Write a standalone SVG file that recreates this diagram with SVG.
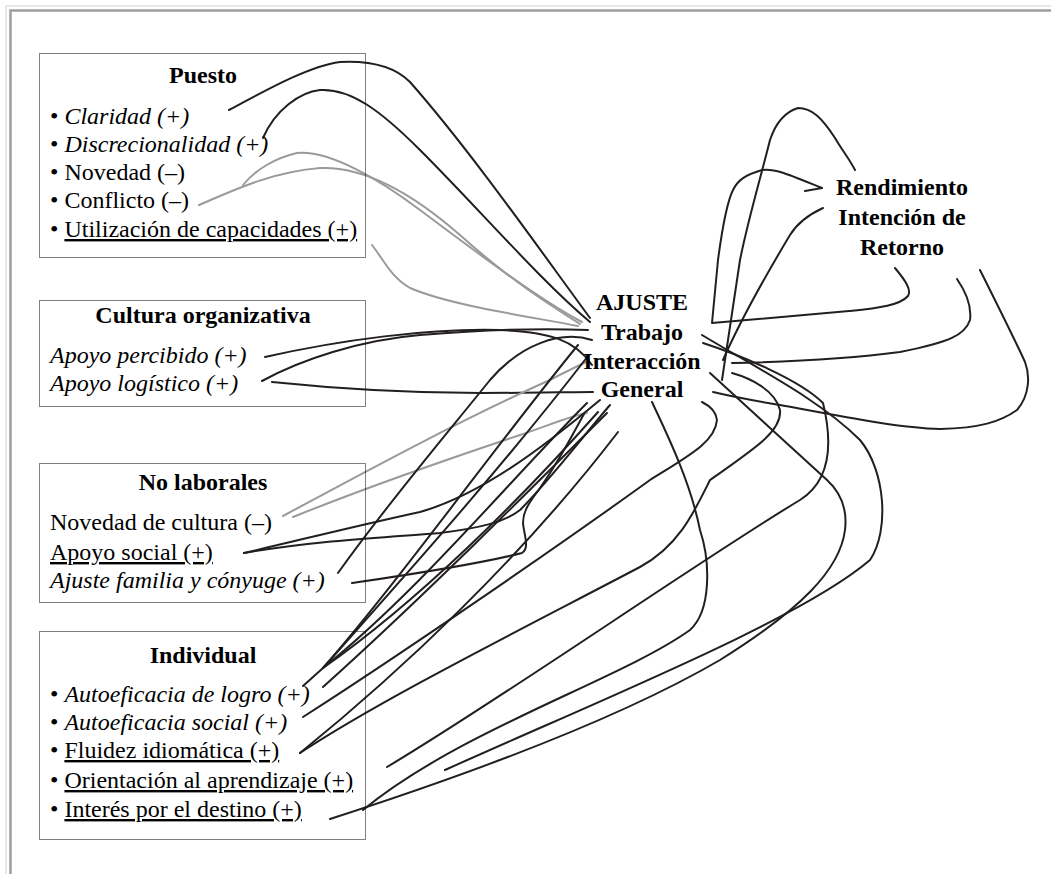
<svg xmlns="http://www.w3.org/2000/svg" width="1051" height="874" viewBox="0 0 1051 874">
<style>
  text { font-family: "Liberation Serif", serif; font-size: 24px; fill: #000; }
  .title { font-weight: bold; text-anchor: middle; }
  .it { font-style: italic; }
  .u { text-decoration: underline; }
  .box { fill: none; stroke: #000; stroke-width: 1; stroke-dasharray: 1 1; }
  .ln { fill: none; stroke: #231f20; stroke-width: 2; stroke-linecap: round; stroke-linejoin: round; }
  .gr { fill: none; stroke: #9a9a9a; stroke-width: 2; stroke-linecap: round; stroke-linejoin: round; }
</style>

<!-- page frame -->
<g id="frame">
  <path d="M6 874 V6 H1051" fill="none" stroke="#cfcfcf" stroke-width="1"/>
  <path d="M10.5 874 V10.5 H1051" fill="none" stroke="#9e9e9e" stroke-width="2.5"/>
</g>

<!-- connectors -->
<g id="connectors">
  <!-- Puesto -->
  <path class="ln" d="M229 110 C270 88 310 66 340 62 C380 60 400 72 410 82 C470 150 540 250 590 318"/>
  <path class="ln" d="M263 138 C275 110 300 92 320 90 C350 88 380 110 420 150 C480 210 540 280 590 322"/>
  <path class="gr" d="M243 185 C255 170 275 158 297 153 C330 150 380 180 420 210 C480 255 540 300 582 322"/>
  <path class="gr" d="M199 205 C230 192 270 172 320 168 C370 166 420 200 460 235 C510 280 550 305 580 324"/>
  <path class="gr" d="M372 245 C385 262 392 278 410 288 C450 305 520 315 578 326"/>
  <!-- Cultura organizativa -->
  <path class="ln" d="M265 357 C340 340 430 328 500 330 C550 332 575 340 592 365"/>
  <path class="ln" d="M262 381 C300 360 360 340 420 335 C480 330 540 328 588 330"/>
  <path class="ln" d="M272 382 C330 388 400 393 480 393 C530 393 570 392 593 392"/>
  <!-- No laborales -->
  <path class="gr" d="M283 516 C350 480 460 420 550 380 C565 372 578 366 586 362"/>
  <path class="gr" d="M293 517 C360 490 460 455 520 435 C550 425 570 416 587 413"/>
  <path class="ln" d="M244 553 C300 540 360 525 420 512 C480 495 540 450 600 400"/>
  <path class="ln" d="M244 553 C320 540 390 537 440 533 C480 528 505 522 520 510 C550 480 580 440 610 405"/>
  <path class="ln" d="M352 583 C400 576 470 566 522 553 C530 548 524 535 523 523 C523 510 530 502 540 488 C560 460 575 430 584 414"/>
  <path class="ln" d="M338 573 C390 500 450 430 490 380 C520 345 560 330 592 340"/>
  <!-- Individual -->
  <path class="ln" d="M303 686 L323 668 C400 580 500 440 578 345"/>
  <path class="ln" d="M323 668 C410 570 500 470 588 356"/>
  <path class="ln" d="M323 668 C420 590 510 480 587 403"/>
  <path class="ln" d="M323 668 C420 600 520 500 598 412"/>
  <path class="ln" d="M323 687 C420 600 530 490 607 413"/>
  <path class="ln" d="M303 717 C400 655 560 545 650 480 C690 455 715 442 717 420 C716 410 708 405 702 402"/>
  <path class="ln" d="M300 753 C400 672 520 560 618 432"/>
  <path class="ln" d="M300 753 C380 700 520 630 640 567 C680 545 695 510 710 480 C760 445 782 430 780 410 C775 390 750 378 732 373"/>
  <path class="ln" d="M387 767 C500 700 700 560 800 500 C832 480 832 440 823 403 C800 380 740 355 703 343"/>
  <path class="ln" d="M445 770 C600 700 800 620 870 560 C890 530 885 470 860 440 C820 400 760 370 702 335"/>
  <path class="ln" d="M363 810 C460 730 620 680 690 630 C712 610 710 560 700 530 C690 480 665 430 652 402"/>
  <path class="ln" d="M330 819 C420 790 600 730 720 660 C800 610 840 570 845 530 C848 505 838 490 827 480 L710 373"/>
  <!-- Rendimiento / Retorno -->
  <path class="ln" d="M895 268 C905 280 912 290 908 296 C900 305 880 308 850 311 C800 315 750 320 712 323 L718 260 C722 230 728 200 733 190 C738 180 745 175 762 170 C775 168 790 175 822 188 L805 191"/>
  <path class="ln" d="M722 380 C728 340 734 300 740 260 C748 220 760 180 770 140 C776 122 785 112 798 108 C812 108 822 118 835 138 C842 150 850 160 855 170"/>
  <path class="ln" d="M823 208 C810 214 798 222 790 235 C775 260 745 310 723 360"/>
  <path class="ln" d="M957 279 C966 292 972 305 970 320 C965 335 950 342 900 352 C840 360 780 362 732 363"/>
  <path class="ln" d="M980 270 C995 300 1015 340 1025 362 C1030 375 1030 395 1017 410 C1000 422 980 428 940 429 C900 428 845 417 780 405 C750 400 730 396 713 392"/>
</g>

<!-- Puesto -->
<g id="puesto">
  <rect class="box" x="39.5" y="53.5" width="326" height="204"/>
  <text class="title" x="203" y="83">Puesto</text>
  <text x="50" y="124">• <tspan class="it">Claridad (+)</tspan></text>
  <text x="50" y="152">• <tspan class="it">Discrecionalidad (+)</tspan></text>
  <text x="50" y="180">• Novedad (–)</text>
  <text x="50" y="208">• Conflicto (–)</text>
  <text x="50" y="237">• <tspan class="u">Utilización de capacidades (+)</tspan></text>
</g>

<!-- Cultura organizativa -->
<g id="cultura">
  <rect class="box" x="39.5" y="300.5" width="326" height="106"/>
  <text class="title" x="203" y="323">Cultura organizativa</text>
  <text class="it" x="50" y="363">Apoyo percibido (+)</text>
  <text class="it" x="50" y="391">Apoyo logístico (+)</text>
</g>

<!-- No laborales -->
<g id="no-laborales">
  <rect class="box" x="39.5" y="463.5" width="326" height="139"/>
  <text class="title" x="203" y="490">No laborales</text>
  <text x="50" y="530">Novedad de cultura (–)</text>
  <text class="u" x="50" y="560">Apoyo social (+)</text>
  <text class="it" x="50" y="588">Ajuste familia y cónyuge (+)</text>
</g>

<!-- Individual -->
<g id="individual">
  <rect class="box" x="39.5" y="631.5" width="326" height="208"/>
  <text class="title" x="203" y="663">Individual</text>
  <text x="50" y="702">• <tspan class="it">Autoeficacia de logro (+)</tspan></text>
  <text x="50" y="730">• <tspan class="it">Autoeficacia social (+)</tspan></text>
  <text x="50" y="758">• <tspan class="u">Fluidez idiomática (+)</tspan></text>
  <text x="50" y="788">• <tspan class="u">Orientación al aprendizaje (+)</tspan></text>
  <text x="50" y="817">• <tspan class="u">Interés por el destino (+)</tspan></text>
</g>

<!-- Ajuste -->
<g id="ajuste">
  <text class="title" x="642" y="310">AJUSTE</text>
  <text class="title" x="642" y="340">Trabajo</text>
  <text class="title" x="642" y="369">Interacción</text>
  <text class="title" x="642" y="397">General</text>
</g>

<!-- Resultados -->
<g id="resultados">
  <text class="title" x="902" y="195">Rendimiento</text>
  <text class="title" x="902" y="225">Intención de</text>
  <text class="title" x="902" y="255">Retorno</text>
</g>
</svg>
